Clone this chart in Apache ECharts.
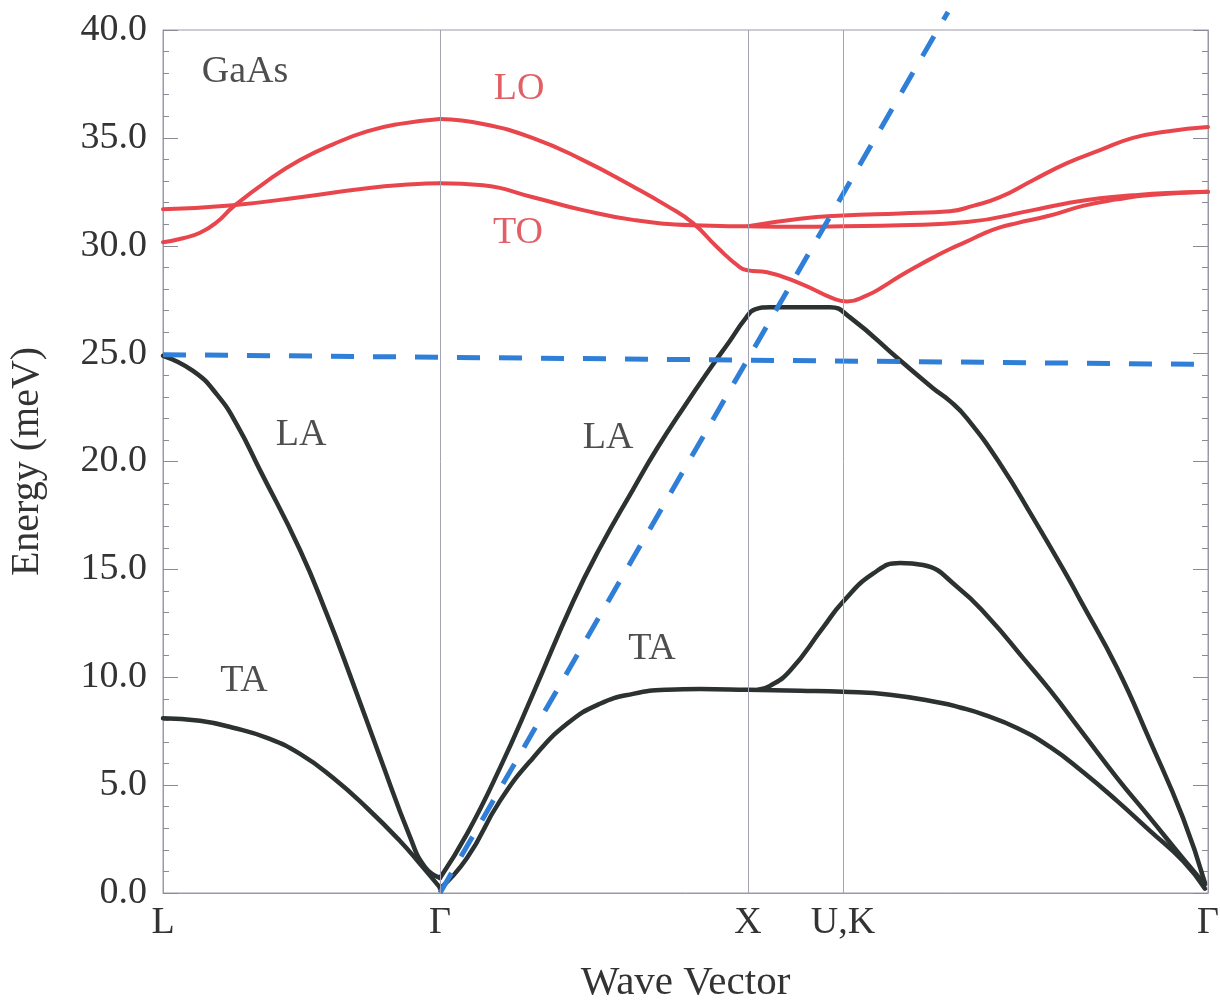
<!DOCTYPE html>
<html>
<head>
<meta charset="utf-8">
<script src="https://cdn.jsdelivr.net/npm/echarts@6/dist/echarts.min.js"></script>
<style>html,body{margin:0;padding:0;background:#fff;}#chart{width:1220px;height:1006px;}</style>
</head>
<body>
<div id="chart"></div>
<script>
// Wave-vector positions of the high-symmetry points (arbitrary path units)
const xTickPositions = [0, 2.77, 5.85, 6.80, 10.45];
const xTickLabels = ['L', 'Γ', 'X', 'U,K', 'Γ'];
const symmetryLines = [2.77, 5.85, 6.80];

// Acoustic branches (meV)
const taL = [[0,8.1],[0.37,7.98],[0.70,7.66],[1.04,7.19],[1.37,6.45],[1.70,5.34],[2.04,3.94],[2.37,2.41],[2.57,1.35],[2.77,0.25]];
const laL = [[0,24.9],[0.30,24.2],[0.54,23.1],[0.74,21.7],[0.97,19.6],[1.37,15.9],[1.64,12.9],[1.87,10.1],[2.17,6.3],[2.47,2.6],[2.62,1.2],[2.77,0.7]];
const laMain = [[2.77,0.7],[3.04,2.74],[3.37,5.8],[3.70,9.23],[4.10,13.5],[4.37,16.0],[4.70,18.7],[4.94,20.6],[5.22,22.6],[5.47,24.3],[5.67,25.6],[5.82,26.6],[5.92,27.05],[6.07,27.15],[6.67,27.15],[6.87,26.68],[7.37,24.69],[7.70,23.4],[7.87,22.8],[8.04,22.0],[8.37,19.9],[8.70,17.4],[9.04,14.7],[9.17,13.6],[9.54,10.44],[9.87,7.05],[10.20,3.48],[10.42,0.46]];
const taMain = [[2.77,0.2],[3.04,1.62],[3.37,4.27],[3.70,6.26],[4.04,7.84],[4.37,8.77],[4.70,9.23],[5.04,9.42],[5.37,9.45],[5.85,9.42],[6.37,9.38],[6.80,9.33],[7.27,9.19],[7.77,8.82],[7.97,8.6],[8.20,8.28],[8.54,7.65],[8.87,6.77],[9.20,5.61],[9.54,4.27],[9.87,2.88],[10.20,1.48],[10.42,0.2]];
const taUpper = [[5.95,9.42],[6.07,9.6],[6.27,10.3],[6.60,12.3],[6.80,13.5],[7.10,14.8],[7.37,15.3],[7.60,15.2],[7.94,14.2],[8.27,12.7],[8.60,10.9],[8.87,9.4],[9.20,7.4],[9.54,5.34],[9.87,3.48],[10.20,1.6],[10.42,0.4]];

// Optical branches (meV)
const loL = [[0,30.16],[0.20,30.35],[0.37,30.6],[0.54,31.1],[0.70,31.8],[1.04,33.0],[1.37,33.97],[1.70,34.7],[2.04,35.3],[2.37,35.65],[2.77,35.87]];
const toL = [[0,31.69],[0.70,31.88],[1.37,32.25],[2.04,32.67],[2.50,32.85],[2.77,32.9]];
const loMain = [[2.77,35.87],[3.20,35.64],[3.70,34.99],[4.20,33.97],[4.70,32.75],[5.04,31.85],[5.30,31.05],[5.54,29.94],[5.77,29.0],[5.85,28.86],[6.04,28.77],[6.37,28.26],[6.70,27.56],[6.84,27.42],[7.04,27.7],[7.20,28.1],[7.37,28.6],[7.54,29.05],[7.70,29.45],[7.87,29.85],[8.04,30.2],[8.20,30.55],[8.37,30.85],[8.54,31.05],[8.87,31.4],[9.20,31.85],[9.54,32.15],[9.87,32.35],[10.45,32.5]];
const toMain = [[2.77,32.9],[3.20,32.8],[3.70,32.25],[4.20,31.65],[4.70,31.2],[5.30,30.95],[5.85,30.9],[6.37,30.88],[6.80,30.9],[7.37,30.95],[8.04,31.1],[8.70,31.65],[9.04,31.97],[9.37,32.2],[9.70,32.34],[10.04,32.44],[10.45,32.5]];
const toBranch = [[5.85,30.9],[6.37,31.25],[6.80,31.4],[7.37,31.5],[7.87,31.6],[8.10,31.85],[8.37,32.25],[8.70,33.04],[9.04,33.83],[9.37,34.43],[9.70,35.0],[10.04,35.3],[10.45,35.5]];

// Dashed reference lines (meV)
const dashFlat = [[0,24.95],[10.45,24.5]];
const dashSlope = [[2.77,0],[7.85,40.84]];

// Text annotations
const annotations = [
  {name:'GaAs', value:[0.82,38.05], color:'#222'},
  {name:'LO', value:[3.56,37.26], color:'#d9383f'},
  {name:'TO', value:[3.55,30.58], color:'#d9383f'},
  {name:'LA', value:[1.38,21.25], color:'#222'},
  {name:'LA', value:[4.45,21.11], color:'#222'},
  {name:'TA', value:[0.81,9.84], color:'#222'},
  {name:'TA', value:[4.89,11.32], color:'#222'}
];

const FONT = '"Liberation Serif", "Times New Roman", serif';
const BLACK = '#2c3131';
const RED = '#e8464c';
const BLUE = '#2f7fd8';

function curve(data, color, width) {
  return {type:'line', data:data, smooth:0.5, symbol:'none', silent:true,
    lineStyle:{color:color, width:width, cap:'round', join:'round'}};
}

const chart = echarts.init(document.getElementById('chart'), null, {renderer:'canvas'});
const yAxisCommon = {
  type:'value', min:0, max:40, interval:5,
  axisLine:{show:true, lineStyle:{color:'#9a9aa6', width:1}},
  axisTick:{show:true, inside:true, length:15, lineStyle:{color:'#8a8a96', width:1}},
  minorTick:{show:true, splitNumber:5, length:6, lineStyle:{color:'#8a8a96', width:1}},
  splitLine:{show:false}
};
chart.setOption({
  animation:false,
  backgroundColor:'#fff',
  grid:{left:163, right:12, top:30, bottom:113, outerBoundsMode:'none', containLabel:false,
    show:true, borderColor:'#9a9aa6', borderWidth:1},
  xAxis:{
    type:'value', min:0, max:10.45,
    name:'Wave Vector', nameLocation:'middle', nameGap:70,
    nameTextStyle:{fontFamily:FONT, fontSize:41, color:'#333'},
    axisLine:{show:true, lineStyle:{color:'#9a9aa6', width:1}},
    axisTick:{show:false},
    splitLine:{show:false},
    axisLabel:{
      customValues:xTickPositions,
      formatter:function(v){
        for (let i=0;i<xTickPositions.length;i++){ if (Math.abs(xTickPositions[i]-v)<1e-6) return xTickLabels[i]; }
        return '';
      },
      fontFamily:FONT, fontSize:38, color:'#333', margin:11
    }
  },
  yAxis:[
    Object.assign({}, yAxisCommon, {
      position:'left',
      name:'Energy (meV)', nameLocation:'middle', nameGap:116, nameRotate:90,
      nameTextStyle:{fontFamily:FONT, fontSize:40, color:'#333'},
      axisLabel:{formatter:function(v){return v.toFixed(1);}, fontFamily:FONT, fontSize:38, color:'#333', margin:16}
    }),
    Object.assign({}, yAxisCommon, {position:'right', axisLabel:{show:false}})
  ],
  series:[
    Object.assign(curve(taL, BLACK, 4.5), {
      markLine:{silent:true, symbol:'none', label:{show:false},
        lineStyle:{color:'#a3a3b3', width:1, type:'solid'},
        data:symmetryLines.map(function(x){return {xAxis:x};})}
    }),
    curve(laL, BLACK, 4.5),
    curve(laMain, BLACK, 4.5),
    curve(taMain, BLACK, 4.5),
    curve(taUpper, BLACK, 4.5),
    curve(loL, RED, 4),
    curve(toL, RED, 4),
    curve(loMain, RED, 4),
    curve(toMain, RED, 4),
    curve(toBranch, RED, 4),
    {type:'line', data:dashFlat, symbol:'none', silent:true,
      lineStyle:{color:BLUE, width:5, type:[23,19]}},
    {type:'line', data:dashSlope, symbol:'none', silent:true, clip:false,
      lineStyle:{color:BLUE, width:5, type:[23,19]}},
    {type:'scatter', silent:true, symbolSize:1, itemStyle:{color:'rgba(0,0,0,0)'},
      data:annotations.map(function(a){return {name:a.name, value:a.value,
        label:{show:true, position:'inside', formatter:'{b}', color:a.color, fontFamily:FONT, fontSize:38}};})}
  ]
});
</script>
</body>
</html>
